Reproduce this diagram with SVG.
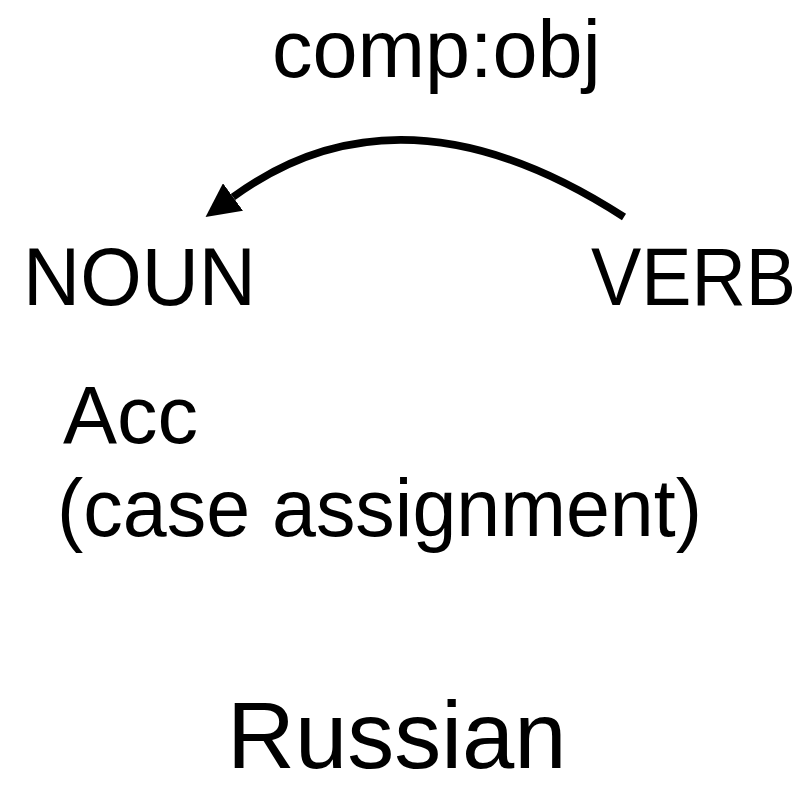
<svg xmlns="http://www.w3.org/2000/svg" width="804" height="787" viewBox="0 0 804 787">
  <style>
    .lbl { font-family: "Liberation Sans", Arial, Helvetica, sans-serif; fill: #000; }
    .edge { fill: none; stroke: #000; stroke-width: 7.5; }
  </style>
  <defs>
    <marker id="arrowhead" markerUnits="userSpaceOnUse" viewBox="0 -17 34 34" markerWidth="34" markerHeight="34" refX="0" refY="0" orient="auto">
      <path d="M0,-17 L34,0 L0,17 z" fill="#000"/>
    </marker>
  </defs>
  <rect width="804" height="787" fill="#fff"/>

  <!-- dependency arc from VERB to NOUN -->
  <g id="connectors">
    <path class="edge" d="M624,217 Q402,73.5 233,197" marker-end="url(#arrowhead)"/>
    <text class="lbl" x="272" y="77" font-size="81">comp:obj</text>
  </g>

  <g id="noun">
    <text class="lbl" x="23" y="305" font-size="81" textLength="233" lengthAdjust="spacingAndGlyphs">NOUN</text>
  </g>

  <g id="verb">
    <text class="lbl" x="591" y="305" font-size="81" textLength="205" lengthAdjust="spacingAndGlyphs">VERB</text>
  </g>

  <g id="feature">
    <text class="lbl" x="63" y="443" font-size="81">Acc</text>
    <text class="lbl" x="57" y="536" font-size="81" textLength="645" lengthAdjust="spacingAndGlyphs">(case assignment)</text>
  </g>

  <g id="language">
    <text class="lbl" x="227" y="768" font-size="94">Russian</text>
  </g>
</svg>
